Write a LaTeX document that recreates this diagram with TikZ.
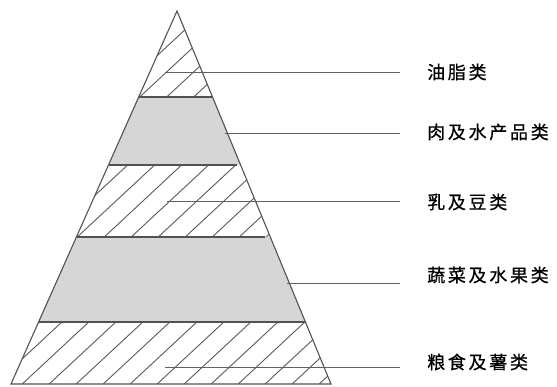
\documentclass[tikz,border=0pt]{standalone}
\usepackage{fontspec}
\newfontfamily\cjk[LetterSpace=15,FakeBold=0.8]{Noto Sans CJK SC}
\begin{document}
\begin{tikzpicture}[x=1pt,y=-1pt]
\tikzset{
  edge/.style={draw=black!68, line width=1.1pt},
  bandgray/.style={fill=black!16},
  hatchline/.style={draw=black!65, line width=0.9pt},
  leader/.style={draw=black!62, line width=1pt},
  lbl/.style={anchor=west, inner sep=0pt, font=\cjk\fontsize{18}{18}\selectfont}
}
\useasboundingbox (0,0) rectangle (557,386);
% pyramid corners
\coordinate (A) at (177,11);
\coordinate (BL) at (11,384);
\coordinate (BR) at (331,384);
% band boundary points
\coordinate (L1) at (138.7,97);  \coordinate (R1) at (212.5,97);
\coordinate (L2) at (108.5,165); \coordinate (R2) at (240.6,165);
\coordinate (L3) at (76.4,237);  \coordinate (R3) at (270.3,237);
\coordinate (L4) at (38.6,322);  \coordinate (R4) at (305.4,322);
% gray bands
\fill[bandgray] (L1) -- (R1) -- (R2) -- (L2) -- cycle;
\fill[bandgray] (L3) -- (R3) -- (R4) -- (L4) -- cycle;
% hatched bands
\begin{scope}
  \clip (A) -- (R1) -- (L1) -- cycle;
  \foreach \k in {-30,...,20} \draw[hatchline] (\k*27+3,400) -- ++(430,-400);
\end{scope}
\begin{scope}
  \clip (L2) -- (R2) -- (R3) -- (L3) -- cycle;
  \foreach \k in {-30,...,20} \draw[hatchline] (\k*27+10,400) -- ++(430,-400);
\end{scope}
\begin{scope}
  \clip (L4) -- (R4) -- (BR) -- (BL) -- cycle;
  \foreach \k in {-30,...,20} \draw[hatchline] (\k*27+5,400) -- ++(430,-400);
\end{scope}
% outline
\draw[edge] (BL) -- (A) -- (BR) -- cycle;
\draw[edge] (L1) -- (R1);
\draw[edge] (L2) -- (237,165);
\draw[edge] (L3) -- (265,237);
\draw[edge] (L4) -- (R4);
% labels
\node[lbl] (t1) at (427,72) {油脂类};
\node[lbl] (t2) at (427,132) {肉及水产品类};
\node[lbl] (t3) at (427,202) {乳及豆类};
\node[lbl] (t4) at (427,275) {蔬菜及水果类};
\node[lbl] (t5) at (427,362) {粮食及薯类};
% leader lines
\coordinate (s1) at (165,72.5);  \coordinate (e1) at (400,72.5);
\coordinate (s2) at (225,133);   \coordinate (e2) at (400,133);
\coordinate (s3) at (167,201.5); \coordinate (e3) at (400,201.5);
\coordinate (s4) at (287,283);   \coordinate (e4) at (400,283);
\coordinate (s5) at (165,367);   \coordinate (e5) at (400,367);
\draw[leader] (s1) -- (e1);
\draw[leader] (s2) -- (e2);
\draw[leader] (s3) -- (e3);
\draw[leader] (s4) -- (e4);
\draw[leader] (s5) -- (e5);
\end{tikzpicture}
\end{document}
